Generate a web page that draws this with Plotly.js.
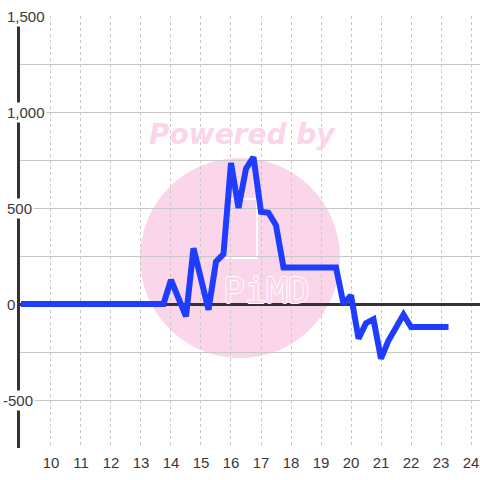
<!DOCTYPE html>
<html>
<head>
<meta charset="utf-8">
<script src="https://cdn.plot.ly/plotly-3.0.1.min.js"></script>
<style>html,body{margin:0;padding:0;background:#fff;}#chart{width:480px;height:480px;}</style>
</head>
<body>
<div id="chart"></div>
<script>
const hours = [9,9.25,9.5,9.75,10,10.25,10.5,10.75,11,11.25,11.5,11.75,12,12.25,12.5,12.75,13,13.25,13.5,13.75,
  14,14.25,14.5,14.75,15,15.25,15.5,15.75,16,16.25,16.5,16.75,17,17.25,17.5,17.75,18,18.25,18.5,18.75,19,19.25,19.5,19.75,
  20,20.25,20.5,20.75,21,21.25,21.5,21.75,22,22.25,22.5,22.75,23,23.25];
const values = [0,0,0,0,0,0,0,0,0,0,0,0,0,0,0,0,0,0,0,0,
  125,30,-65,290,130,-30,220,260,735,500,705,765,480,475,410,190,190,190,190,190,190,190,190,0,
  45,-180,-100,-80,-285,-190,-120,-55,-120,-120,-120,-120,-120,-120];
const yTickVals = [1500,1000,500,0,-500];
const yTickText = ['1,500','1,000','500','0','-500'];
const xTickVals = [10,11,12,13,14,15,16,17,18,19,20,21,22,23,24];
const watermarkText = 'Powered by';
const logoText = 'PiMD';

const W = 460, H = 432, L = 20, T = 16;
const px = v => (v - L) / W;
const py = v => (T + H - v) / H;

const annotations = yTickVals.map((v,i)=>({
  xref:'paper', yref:'y', x:px(yTickText[i].startsWith('-') ? 1 : 5), y:v, xanchor:'left', yanchor:'middle',
  text:yTickText[i], showarrow:false, bgcolor:'#ffffff', borderpad:1,
  font:{family:'Liberation Sans, Arial, sans-serif', size:15, color:'#383838'}
}));
annotations.push({
  xref:'paper', yref:'paper', x:px(242), y:py(134), xanchor:'center', yanchor:'middle',
  text:'<b><i>'+watermarkText+'</i></b>', showarrow:false,
  font:{family:'DejaVu Sans, sans-serif', size:28, color:'#fbd5ea'}
});
annotations.push({
  xref:'paper', yref:'paper', x:px(266), y:py(290), xanchor:'center', yanchor:'middle',
  text:logoText, showarrow:false,
  font:{family:'DejaVu Sans Mono, monospace', size:36, color:'#fbd5ea',
    shadow:'1px 0 #fff, -1px 0 #fff, 0 1px #fff, 0 -1px #fff'}
});

Plotly.newPlot('chart', [{
  x: hours, y: values, type:'scatter', mode:'lines',
  line:{color:'#1f3dff', width:6}, hoverinfo:'skip'
}], {
  width:480, height:480,
  margin:{l:L, r:0, t:T, b:32, pad:0},
  paper_bgcolor:'#ffffff', plot_bgcolor:'#ffffff',
  showlegend:false,
  xaxis:{range:[8.967,24.3], tickvals:xTickVals, ticktext:xTickVals.map(String),
    showgrid:true, gridcolor:'#c8c8c8', griddash:'dot', gridwidth:1,
    zeroline:false, showline:false, ticks:'', ticklabelstandoff:4,
    tickfont:{family:'Liberation Sans, Arial, sans-serif', size:15, color:'#383838'}},
  yaxis:{range:[-750,1500], dtick:250, tick0:0, showticklabels:false,
    showgrid:true, gridcolor:'#c8c8c8', gridwidth:1,
    zeroline:true, zerolinecolor:'#333', zerolinewidth:3,
    showline:true, linecolor:'#333', linewidth:3, ticks:''},
  shapes:[
    {type:'circle', xref:'paper', yref:'paper', layer:'below',
      x0:px(140), x1:px(340), y0:py(358), y1:py(158),
      fillcolor:'#fbd5ea', line:{width:0}},
    {type:'rect', xref:'paper', yref:'paper', layer:'below',
      x0:px(226), x1:px(257), y0:py(258), y1:py(199),
      fillcolor:'rgba(0,0,0,0)', line:{width:2, color:'#ffffff'}}
  ],
  annotations: annotations
}, {staticPlot:true});
</script>
</body>
</html>
